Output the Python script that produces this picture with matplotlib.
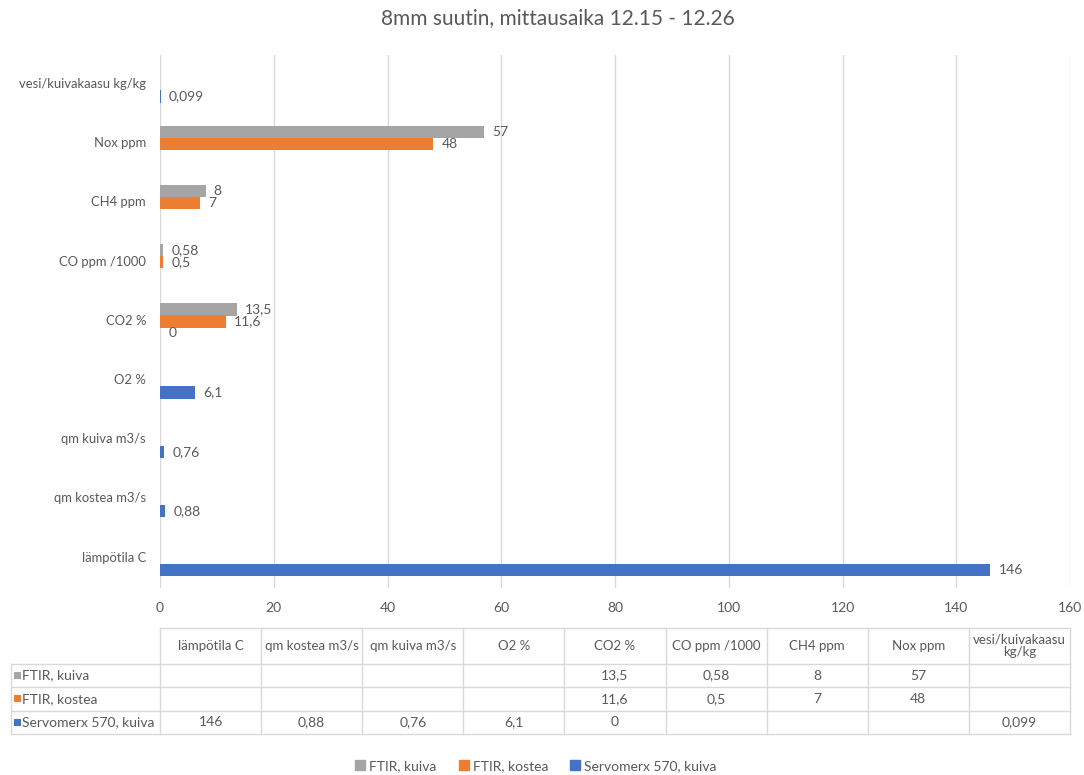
import matplotlib.pyplot as plt
from matplotlib.patches import Patch, Rectangle

plt.rcParams['font.family'] = ['Lato', 'DejaVu Sans']

# categories, bottom to top as drawn on the axis
categories = ['lämpötila C', 'qm kostea m3/s', 'qm kuiva m3/s', 'O2 %', 'CO2 %',
              'CO ppm /1000', 'CH4 ppm', 'Nox ppm', 'vesi/kuivakaasu\nkg/kg']
series_names = ['FTIR, kuiva', 'FTIR, kostea', 'Servomerx 570, kuiva']
ftir_kuiva = [None, None, None, None, 13.5, 0.58, 8, 57, None]
ftir_kostea = [None, None, None, None, 11.6, 0.5, 7, 48, None]
servomerx = [146, 0.88, 0.76, 6.1, 0, None, None, None, 0.099]
xticks = [0, 20, 40, 60, 80, 100, 120, 140, 160]

colors = ['#A5A5A5', '#ED7D31', '#4472C4']
txt = '#595959'
grid = '#D9D9D9'


def fmt(v):
    return f'{v:g}'.replace('.', ',')


W, H = 1084, 775
fig = plt.figure(figsize=(W / 100, H / 100), dpi=100)
ax = fig.add_axes([160 / W, 1 - 588 / H, 910 / W, (588 - 55) / H])

offsets = [0.2, 0.0, -0.2]
for vals, col, off in zip([ftir_kuiva, ftir_kostea, servomerx], colors, offsets):
    for i, v in enumerate(vals):
        if v is None:
            continue
        ax.barh(i + off, v, height=0.21, color=col, zorder=3)
        ax.annotate(fmt(v), (v, i + off), xytext=(6, 0), textcoords='offset points',
                    va='center', ha='left', fontsize=10, color=txt)

ax.set_xlim(0, 160)
ax.set_ylim(-0.5, len(categories) - 0.5)
ax.set_xticks(xticks)
ax.set_yticks([i + 0.03 for i in range(len(categories))])
ax.set_yticklabels([c.replace('\n', ' ') for c in categories])
ax.tick_params(axis='x', length=0, labelsize=10, colors=txt, pad=10)
ax.tick_params(axis='y', length=0, labelsize=9.4, colors=txt, pad=10)
ax.grid(axis='x', color=grid, lw=1, zorder=0)
for s in ax.spines.values():
    s.set_visible(False)

fig.text(558 / W, 1 - 18 / H, '8mm suutin, mittausaika 12.15 - 12.26',
         ha='center', va='center', fontsize=15, color=txt)

# data table under the chart
tax = fig.add_axes([0, 0, 1, 1])
tax.set_xlim(0, W)
tax.set_ylim(H, 0)
tax.axis('off')

col_left = 160
col_w = 910 / len(categories)
header_top, header_bot = 628, 664
row_h = 23.3
row_lines = [header_bot + k * row_h for k in range(4)]

for j, cat in enumerate(categories):
    x0 = col_left + j * col_w
    tax.text(x0 + col_w / 2, (header_top + header_bot) / 2, cat, ha='center', va='center',
             fontsize=9.5, color=txt, linespacing=1.1)

# grid lines
tax.plot([col_left, col_left + 9 * col_w], [header_top, header_top], color=grid, lw=1)
for y in row_lines:
    tax.plot([11, col_left + 9 * col_w], [y, y], color=grid, lw=1)
for j in range(10):
    x0 = col_left + j * col_w
    tax.plot([x0, x0], [header_top, row_lines[-1]], color=grid, lw=1)
tax.plot([11, 11], [header_bot, row_lines[-1]], color=grid, lw=1)

for r, (name, vals, col) in enumerate(zip(series_names, [ftir_kuiva, ftir_kostea, servomerx], colors)):
    yc = row_lines[r] + row_h / 2
    tax.add_patch(Rectangle((14, yc - 3.5), 7, 7, color=col, lw=0))
    tax.text(22, yc, name, ha='left', va='center', fontsize=10, color=txt)
    for j, v in enumerate(vals):
        if v is None:
            continue
        tax.text(col_left + j * col_w + col_w / 2, yc, fmt(v), ha='center', va='center',
                 fontsize=10, color=txt)

handles = [Patch(color=c, label=n) for c, n in zip(colors, series_names)]
fig.legend(handles=handles, loc='center', bbox_to_anchor=(536 / W, 1 - 766 / H), ncol=3,
           frameon=False, fontsize=10, handlelength=0.7, handleheight=0.7,
           handletextpad=0.3, columnspacing=1.6, labelcolor=txt)

fig.savefig('out.png', dpi=100)
